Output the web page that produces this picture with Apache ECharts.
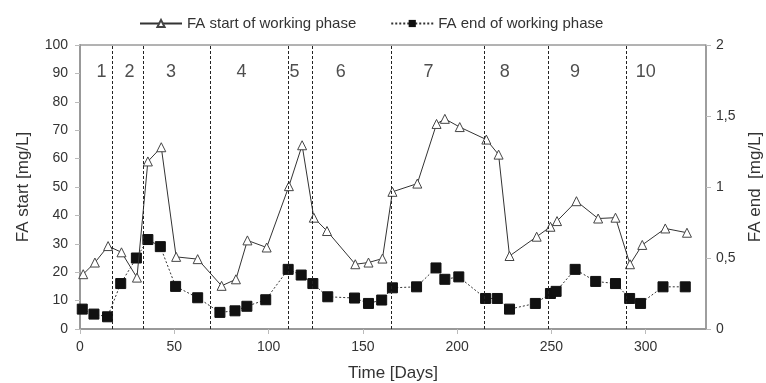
<!DOCTYPE html>
<html>
<head>
<meta charset="utf-8">
<script src="https://cdn.jsdelivr.net/npm/echarts@6/dist/echarts.min.js"></script>
<style>
  html, body { margin: 0; padding: 0; background: #fff; }
  #chart { width: 766px; height: 383px; }
</style>
</head>
<body>
<div id="chart"></div>
<script>
// FA at the start of each working phase (left axis, mg/L)
const startDays = [1.7, 7.9, 14.9, 22, 30.2, 36, 43.1, 51, 62.4, 75.1, 82.7, 88.8, 99, 110.8, 117.8, 124, 131,
  146, 153, 160.4, 165.7, 178.9, 189.1, 193.5, 201.4, 215.5, 222, 227.8, 242.2, 249.5, 253, 263.3, 274.8, 284,
  291.7, 298.2, 310.4, 321.9];
const startFA = [19.3, 23.4, 29.2, 27, 18.1, 59, 64, 25.4, 24.6, 15.2, 17.5, 31.2, 28.7, 50.3, 64.7, 39.2, 34.5,
  22.8, 23.4, 24.8, 48.3, 51.2, 72.2, 74, 71.1, 66.7, 61.4, 25.7, 32.5, 36, 38, 45, 38.9, 39.2,
  22.8, 29.6, 35.4, 33.9];

// FA at the end of each working phase (right axis, mg/L)
const endDays = [1.2, 7.4, 14.6, 21.6, 29.9, 36, 42.6, 50.7, 62.4, 74.2, 82.2, 88.5, 98.5, 110.4, 117.3, 123.5,
  131.4, 145.6, 153, 160, 165.7, 178.5, 188.8, 193.5, 200.9, 215.1, 221.3, 227.8, 241.5, 249.5, 252.5, 262.6,
  273.5, 284, 291.5, 297.3, 309.2, 321];
const endFA = [0.14, 0.105, 0.086, 0.32, 0.5, 0.63, 0.58, 0.3, 0.22, 0.117, 0.128, 0.16, 0.206, 0.42, 0.38, 0.32,
  0.227, 0.218, 0.18, 0.204, 0.29, 0.297, 0.43, 0.35, 0.367, 0.215, 0.215, 0.14, 0.18, 0.25, 0.265, 0.42,
  0.335, 0.32, 0.215, 0.18, 0.297, 0.297];

// Working phase boundaries (days) and phase numbering
const phaseBounds = [17, 33.8, 69.1, 110.4, 123.1, 165.3, 214.2, 248.5, 289.7];
const phaseNames = ['1', '2', '3', '4', '5', '6', '7', '8', '9', '10'];
const phaseNameDays = [11.4, 26.3, 48.3, 85.6, 113.7, 138.3, 184.8, 225.3, 262.5, 300];

const xTicks = [0, 50, 100, 150, 200, 250, 300];
const leftTicks = [0, 10, 20, 30, 40, 50, 60, 70, 80, 90, 100];
const rightTicks = [0, 0.5, 1, 1.5, 2];

const FONT = '"Liberation Sans", Arial, sans-serif';
const TXT = '#333';
const AXIS = '#999';

const chart = echarts.init(document.getElementById('chart'), null, { renderer: 'canvas' });

const pair = (xs, ys) => xs.map((x, i) => [x, ys[i]]);

chart.setOption({
  animation: false,
  textStyle: { fontFamily: FONT },
  legend: {
    top: 11,
    left: 134,
    itemGap: 34,
    itemWidth: 42,
    itemHeight: 9,
    textStyle: { fontFamily: FONT, fontSize: 15, color: TXT },
    data: ['FA start of working phase', 'FA end of working phase']
  },
  grid: {
    left: 80, right: 60, top: 45, bottom: 54,
    outerBoundsMode: 'none',
    containLabel: false,
    show: true, borderColor: '#666', borderWidth: 1, backgroundColor: 'transparent'
  },
  xAxis: {
    type: 'value', min: 0, max: 332, interval: 50,
    name: 'Time [Days]', nameLocation: 'middle', nameGap: 36,
    nameTextStyle: { fontFamily: FONT, fontSize: 17, color: TXT },
    axisLine: { show: true, onZero: false, lineStyle: { color: AXIS, width: 2 } },
    axisTick: { show: true, length: 5, lineStyle: { color: '#bbb' }, customValues: xTicks },
    axisLabel: { fontFamily: FONT, fontSize: 14, color: TXT, margin: 11, customValues: xTicks },
    splitLine: { show: false }
  },
  yAxis: [
    {
      type: 'value', min: 0, max: 100, interval: 10, position: 'left',
      name: 'FA start [mg/L]', nameLocation: 'middle', nameGap: 48,
      nameTextStyle: { fontFamily: FONT, fontSize: 17, color: TXT },
      axisLine: { show: true, lineStyle: { color: AXIS, width: 2 } },
      axisTick: { show: true, length: 5, lineStyle: { color: '#bbb' }, customValues: leftTicks },
      axisLabel: { fontFamily: FONT, fontSize: 14, color: TXT, margin: 12, customValues: leftTicks },
      splitLine: { show: false }
    },
    {
      type: 'value', min: 0, max: 2, interval: 0.5, position: 'right',
      name: 'FA end  [mg/L]', nameLocation: 'middle', nameGap: 40,
      nameTextStyle: { fontFamily: FONT, fontSize: 17, color: TXT },
      axisLine: { show: true, lineStyle: { color: AXIS, width: 1.5 } },
      axisTick: { show: true, length: 5, lineStyle: { color: '#bbb' }, customValues: rightTicks },
      axisLabel: {
        fontFamily: FONT, fontSize: 14, color: TXT, margin: 10, customValues: rightTicks,
        formatter: v => String(v).replace('.', ',')
      },
      splitLine: { show: false }
    }
  ],
  series: [
    {
      name: 'FA start of working phase',
      type: 'line', yAxisIndex: 0,
      data: pair(startDays, startFA),
      symbol: 'triangle', symbolSize: 9,
      itemStyle: { color: '#fff', borderColor: '#444', borderWidth: 1 },
      lineStyle: { color: '#333', width: 1 },
      z: 4,
      markLine: {
        silent: true, symbol: 'none',
        label: { show: false },
        lineStyle: { color: '#222', width: 1, type: [3, 2] },
        data: phaseBounds.map(d => ({ xAxis: d }))
      }
    },
    {
      name: 'FA end of working phase',
      type: 'line', yAxisIndex: 1,
      data: pair(endDays, endFA),
      symbol: 'rect', symbolSize: 10,
      itemStyle: { color: '#111', borderColor: '#111' },
      lineStyle: { color: '#333', width: 1, type: [2, 2] },
      z: 3
    },
    {
      name: 'phases',
      type: 'scatter', yAxisIndex: 0,
      symbolSize: 0, silent: true,
      data: phaseNameDays.map((d, i) => ({ value: [d, 90.5], name: phaseNames[i] })),
      label: {
        show: true, position: 'inside',
        formatter: p => p.name,
        fontFamily: FONT, fontSize: 18, color: '#222'
      }
    }
  ]
});
</script>
</body>
</html>
